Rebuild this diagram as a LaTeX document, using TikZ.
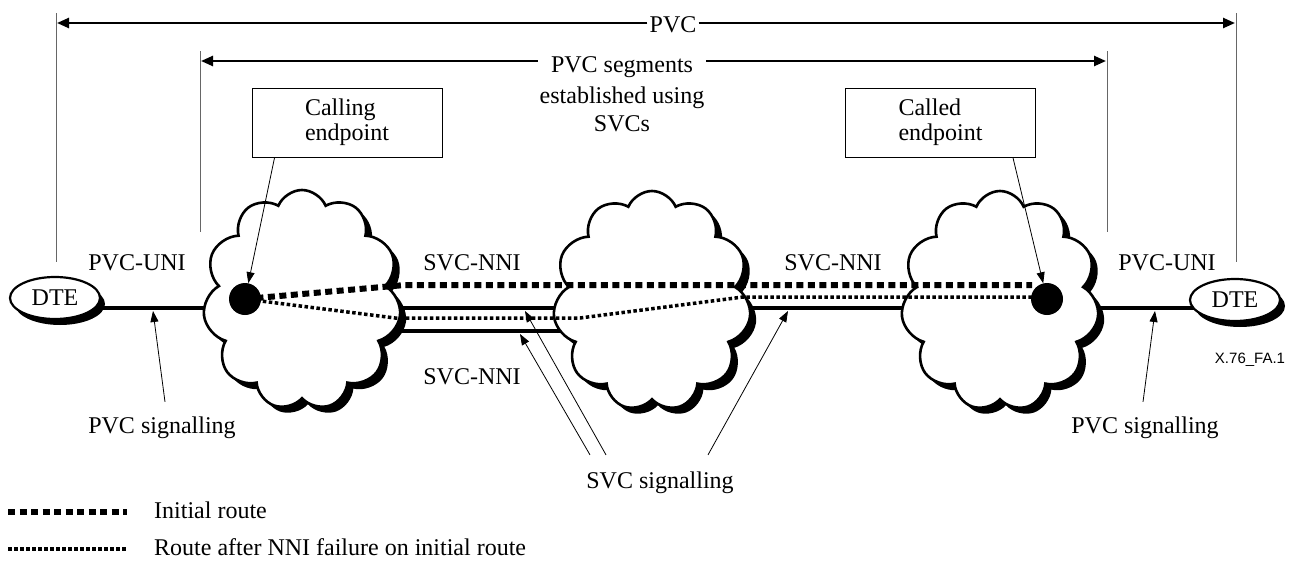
\documentclass[tikz,border=0pt]{standalone}
\usepackage{fontspec}
\setmainfont{Liberation Serif}
\newfontfamily\labelsans{Liberation Sans}
\usetikzlibrary{arrows.meta,shapes.geometric,shapes.symbols,shadows}
\begin{document}
\begin{tikzpicture}[x=1pt,y=-1pt,
  font=\fontsize{24}{29}\selectfont,
  bigarrow/.style={line width=2.4pt,-{Triangle[length=12pt,width=10pt]}},
  guide/.style={line width=1pt,draw=black!60},
  link/.style={line width=4pt},
  sigarrow/.style={line width=0.8pt,-{Triangle[length=11pt,width=8pt]}},
  netcloud/.style={cloud,cloud puffs=11,cloud puff arc=135,cloud ignores aspect,
    minimum width=198pt,minimum height=220pt,draw,line width=2.6pt,fill=white,
    drop shadow={shadow xshift=6pt,shadow yshift=-6pt,fill=black,opacity=1}},
  dte/.style={ellipse,draw,line width=2.2pt,fill=white,minimum width=90pt,
    minimum height=42pt,inner sep=0pt,
    drop shadow={shadow xshift=5pt,shadow yshift=-6pt,fill=black,opacity=1}},
  epbox/.style={draw,line width=0.8pt,minimum width=190pt,minimum height=69pt,
    align=left,font=\fontsize{24}{25}\selectfont},
  enddot/.style={circle,fill=black,minimum size=32pt,inner sep=0pt},
  initroute/.style={line width=6pt,dash pattern=on 7pt off 4.5pt},
  altroute/.style={line width=3.5pt,dash pattern=on 3.5pt off 2.5pt},
  lbl/.style={inner sep=1pt}
]
\useasboundingbox (0,0) rectangle (1291,560);

% guide lines
\coordinate (gL1) at (56,13);  \coordinate (gL2) at (56,262);
\coordinate (gR1) at (1236,13); \coordinate (gR2) at (1236,262);
\coordinate (gl1) at (200,51); \coordinate (gl2) at (200,232);
\coordinate (gr1) at (1107,51); \coordinate (gr2) at (1107,232);
\draw[guide] (gL1) -- (gL2);
\draw[guide] (gR1) -- (gR2);
\draw[guide] (gl1) -- (gl2);
\draw[guide] (gr1) -- (gr2);

% PVC span
\node[anchor=base,inner xsep=2pt] (pvc) at (673,32) {PVC};
\coordinate (aL) at (57,23); \coordinate (aR) at (1235,23);
\draw[bigarrow] (pvc.west |- aL) -- (aL);
\draw[bigarrow] (pvc.east |- aR) -- (aR);

% PVC segments span
\node[anchor=base,inner xsep=13pt] (seg) at (622,72) {PVC segments};
\node[anchor=base] (seg2) at (622,103) {established using};
\node[anchor=base] (seg3) at (622,131) {SVCs};
\coordinate (bL) at (201,61); \coordinate (bR) at (1106,61);
\draw[bigarrow] (seg.west |- bL) -- (bL);
\draw[bigarrow] (seg.east |- bR) -- (bR);

% positions
\coordinate (cL) at (302,300);
\coordinate (cM) at (652,301);
\coordinate (cR) at (1000,301);
\coordinate (tL) at (55,298);
\coordinate (tR) at (1235,300);
\coordinate (yU) at (0,308);
\coordinate (yD) at (0,331);
\coordinate (dL) at (245,299);
\coordinate (dR) at (1047,299);

% solid links (under clouds)
\draw[link] (tL |- yU) -- (cL |- yU);
\draw[link] (cL |- yU) -- (cM |- yU);
\draw[link] (cL |- yD) -- (cM |- yD);
\draw[link] (cM |- yU) -- (cR |- yU);
\draw[link] (cR |- yU) -- (tR |- yU);

% clouds and DTEs
\node[netcloud] (cloudL) at (cL) {};
\node[netcloud] (cloudM) at (cM) {};
\node[netcloud] (cloudR) at (cR) {};
\node[dte] (dteL) at (tL) {DTE};
\node[dte] (dteR) at (tR) {DTE};

% routes
\coordinate (kA) at (405,285);
\coordinate (eA) at (1032,285);
\coordinate (kB) at (395,318);
\coordinate (kC) at (580,318);
\coordinate (kD) at (743,297);
\draw[initroute] (dL) -- (kA) -- (eA);
\draw[altroute] (dL) -- (kB) -- (kC) -- (kD) -- (kD -| dR);

% endpoints
\node[enddot] (dotL) at (dL) {};
\node[enddot] (dotR) at (dR) {};

% endpoint boxes
\node[epbox] (calling) at (347,122.5) {Calling\\endpoint};
\node[epbox] (called) at (940.5,122.5) {Called\\endpoint};
\draw[sigarrow] ([xshift=23pt]calling.south west) -- (dotL);
\draw[sigarrow] ([xshift=-23pt]called.south east) -- (dotR);

% link labels
\node[lbl] (uniL) at (137,263) {PVC-UNI};
\node[lbl] (uniR) at (1167,263) {PVC-UNI};
\node[lbl] (nniA) at (472,263) {SVC-NNI};
\node[lbl] (nniB) at (472,377) {SVC-NNI};
\node[lbl] (nniC) at (833,263) {SVC-NNI};

% signalling
\node[lbl] (psigL) at (162,428) {PVC signalling};
\node[lbl] (psigR) at (1145,428) {PVC signalling};
\node[lbl] (ssig) at (660,483) {SVC signalling};
\coordinate (hA) at (153,311);
\coordinate (hB) at (520,334);
\coordinate (hC) at (525,311);
\coordinate (hD) at (788,311);
\coordinate (hE) at (1155,311);
\draw[sigarrow] ([xshift=3pt,yshift=14pt]psigL.north) -- (hA);
\draw[sigarrow] ([xshift=-2pt,yshift=14pt]psigR.north) -- (hE);
\draw[sigarrow] ([xshift=-70pt,yshift=16pt]ssig.north) -- (hB);
\draw[sigarrow] ([xshift=-54pt,yshift=16pt]ssig.north) -- (hC);
\draw[sigarrow] ([xshift=48pt,yshift=16pt]ssig.north) -- (hD);

% figure id
\node[lbl,font=\labelsans\fontsize{15}{18}\selectfont] (figid) at (1250,360) {X.76\_FA.1};

% legend
\coordinate (la1) at (8,512); \coordinate (la2) at (127,512);
\coordinate (lb1) at (8,549); \coordinate (lb2) at (127,549);
\draw[initroute] (la1) -- (la2);
\draw[altroute] (lb1) -- (lb2);
\node[anchor=base west,inner sep=0pt] (lgA) at (154,518) {Initial route};
\node[anchor=base west,inner sep=0pt] (lgB) at (154,555) {Route after NNI failure on initial route};
\end{tikzpicture}
\end{document}
